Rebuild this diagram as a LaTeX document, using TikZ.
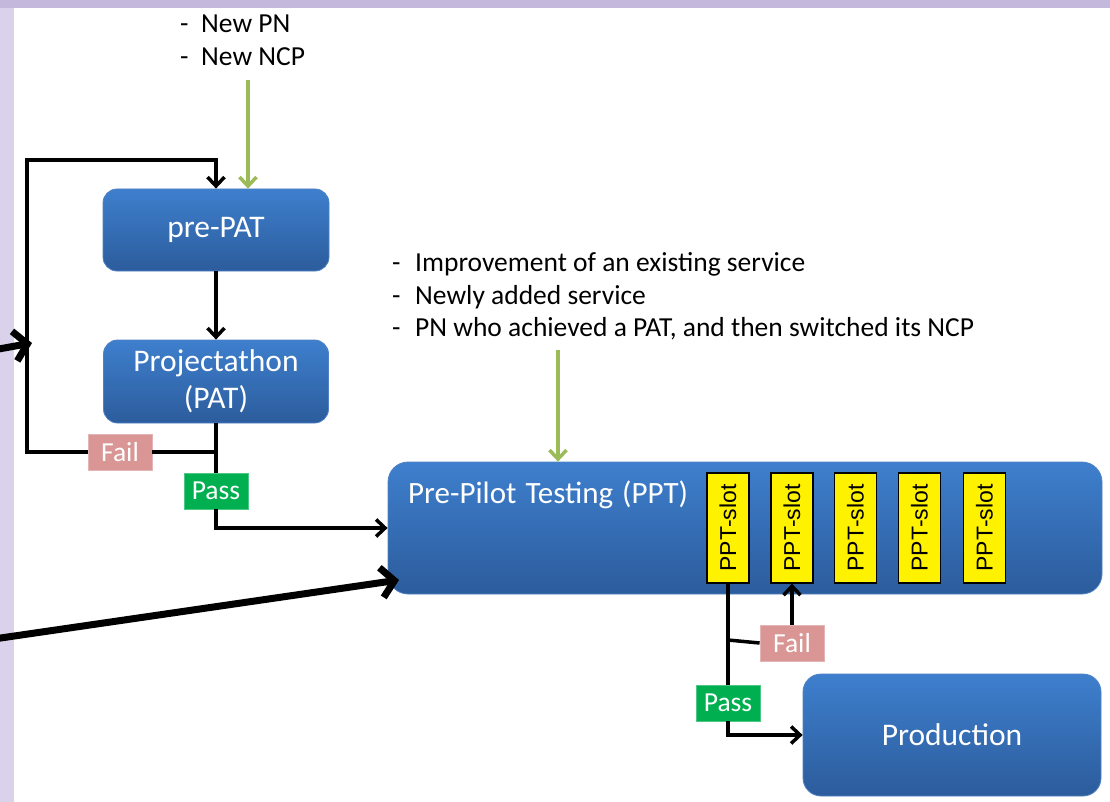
\documentclass[tikz,border=0pt]{standalone}
\usepackage{fontspec}
\setmainfont{Carlito}
\newfontfamily\arialfont{Liberation Sans}
\usetikzlibrary{arrows.meta}
\definecolor{bluetop}{RGB}{62,127,205}
\definecolor{bluebot}{RGB}{44,92,156}
\definecolor{blueedge}{RGB}{80,130,195}
\definecolor{failc}{RGB}{217,150,148}
\definecolor{passc}{RGB}{0,176,80}
\definecolor{greenarr}{RGB}{155,187,89}
\definecolor{frameL}{RGB}{217,210,234}
\definecolor{frameT}{RGB}{196,184,221}
\begin{document}
\begin{tikzpicture}[x=1pt,y=-1pt,
  bluebox/.style={rectangle, rounded corners=14pt, top color=bluetop, bottom color=bluebot, draw=blueedge, line width=0.8pt, text=white, font=\fontsize{31.5}{37}\selectfont, align=center, inner sep=0pt},
  slotbox/.style={rectangle, fill=yellow, draw=black, line width=1.2pt, minimum width=42pt, minimum height=110pt, inner sep=0pt, font=\arialfont\fontsize{23}{24}\selectfont},
  failbox/.style={rectangle, fill=failc, draw=failc!70!white, line width=0.8pt, text=white, minimum width=64pt, minimum height=36pt, inner sep=0pt, font=\fontsize{27.5}{30}\selectfont},
  passbox/.style={failbox, fill=passc, draw=passc!70!white},
  plainline/.style={line width=3.5pt},
  conn/.style={line width=3.5pt, -{Straight Barb[length=9pt,width=17pt]}},
  greenconn/.style={line width=3.5pt, draw=greenarr, -{Straight Barb[length=9pt,width=17pt]}},
  bigarrow/.style={line width=7pt, line cap=round, -{Straight Barb[length=13pt,width=30pt]}},
  listtext/.style={anchor=base west, inner sep=0pt, font=\fontsize{27.5}{32}\selectfont}]
\useasboundingbox (0,0) rectangle (1110,802);
\clip (0,0) rectangle (1110,802);
% background frame
\fill[frameL] (0,0) rectangle (1110,802);
\fill[frameT] (0,0) rectangle (1110,8);
\fill[white] (14,8) rectangle (1110,802);

% text lists
\node[listtext] (n1) at (180,33) {\makebox[21pt][l]{-}New PN};
\node[listtext] (n2) at (180,66) {\makebox[21pt][l]{-}New NCP};
\node[listtext] (m1) at (392,272) {\makebox[23pt][l]{-}Improvement of an existing service};
\node[listtext] (m2) at (392,304) {\makebox[23pt][l]{-}Newly added service};
\node[listtext] (m3) at (392,336) {\makebox[23pt][l]{-}PN who achieved a PAT, and then switched its NCP};

% main boxes
\node[bluebox, minimum width=226pt, minimum height=82pt] (prepat) at (216,230) {pre-PAT};
\node[bluebox, minimum width=225pt, minimum height=83pt] (pat) at (216,381.5) {Projectathon\\(PAT)};
\node[bluebox, rounded corners=20pt, minimum width=714pt, minimum height=132pt] (ppt) at (745,528) {};
\node[anchor=base west, inner sep=0pt, text=white, font=\fontsize{31}{36}\selectfont] (ppttitle) at (408,503) {Pre-Pilot\hspace{2pt} Testing\hspace{2pt} (PPT)};
\node[bluebox, rounded corners=18pt, minimum width=298pt, minimum height=122pt] (prod) at (952,735) {Production};

% slots
\node[slotbox] (slot1) at (728,528) {\rotatebox{90}{PPT-slot}};
\node[slotbox] (slot2) at (792,528) {\rotatebox{90}{PPT-slot}};
\node[slotbox] (slot3) at (855.5,528) {\rotatebox{90}{PPT-slot}};
\node[slotbox] (slot4) at (919.5,528) {\rotatebox{90}{PPT-slot}};
\node[slotbox] (slot5) at (984.5,528) {\rotatebox{90}{PPT-slot}};

% labels
\node[failbox] (failA) at (120,452) {Fail};
\node[passbox] (passA) at (216,491) {Pass};
\node[failbox] (failB) at (792,643) {Fail};
\node[passbox] (passB) at (728,703) {Pass};

% coordinates
\coordinate (g1) at (248,80);
\coordinate (g2) at (558,350);
\coordinate (lc1) at (27,452);
\coordinate (lc2) at (27,160);
\coordinate (j1) at (216,452);
\coordinate (b1) at (728,640);
\coordinate (s1) at (-40,356);
\coordinate (t1) at (32,343);
\coordinate (s2) at (-20,641);
\coordinate (t2) at (399,580);

% connectors
\draw[greenconn] (g1) -- (g1 |- prepat.north);
\draw[greenconn] (g2) -- (g2 |- ppt.north);
\draw[conn] (prepat.south) -- (pat.north);
\draw[conn] (failA.west) -- (lc1) -- (lc2) -- (prepat.north |- lc2) -- (prepat.north);
\draw[plainline] (failA.east) -- (j1);
\draw[plainline] (pat.south) -- (passA.north);
\draw[conn] (passA.south) -- (passA.south |- ppt.west) -- (ppt.west);
\draw[plainline] (slot1.south) -- (passB.north);
\draw[plainline] (b1) -- (failB.west);
\draw[conn] (failB.north) -- (slot2.south);
\draw[conn] (passB.south) -- (passB.south |- prod.west) -- (prod.west);
\draw[bigarrow] (s1) -- (t1);
\draw[bigarrow] (s2) -- (t2);
\end{tikzpicture}
\end{document}
